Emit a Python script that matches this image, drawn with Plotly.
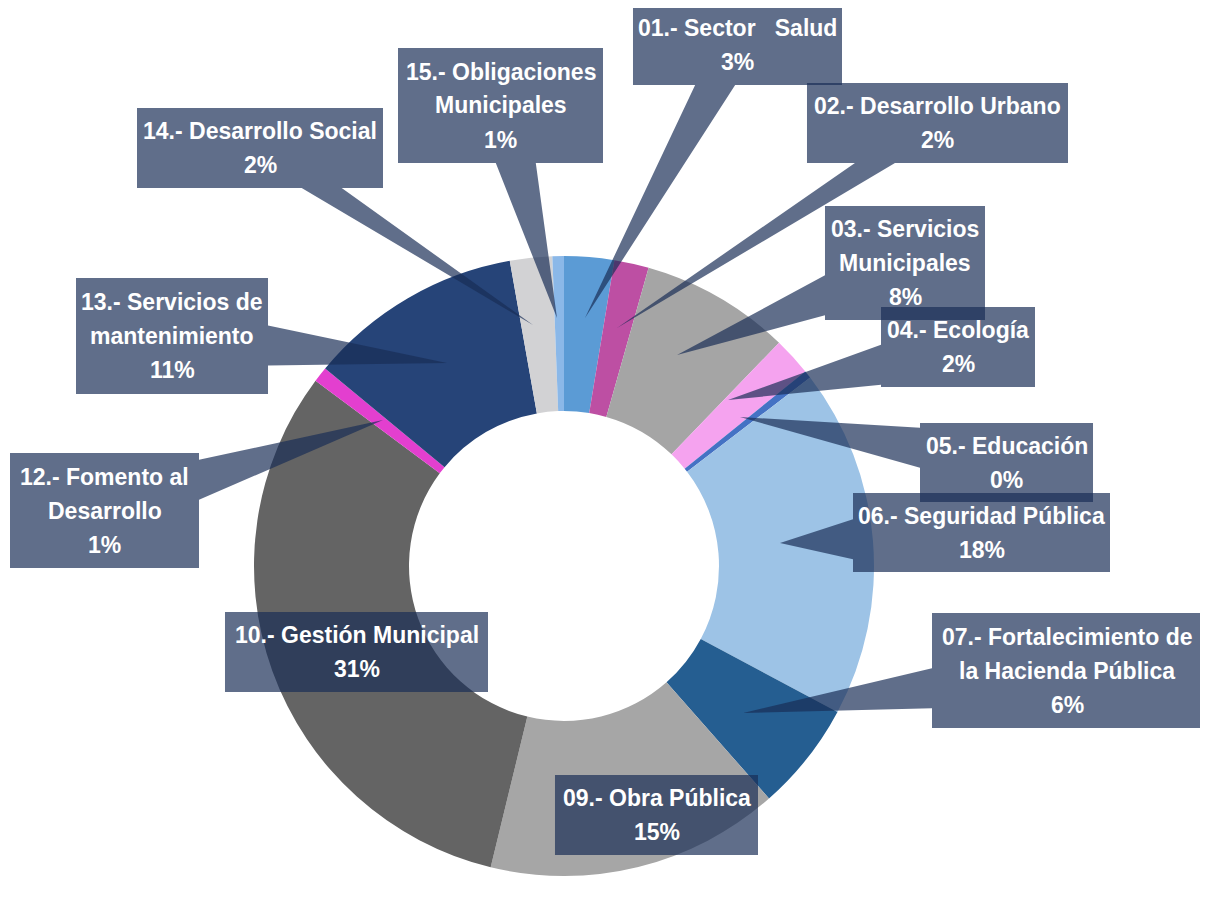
import plotly.graph_objects as go

# ---------------- data ----------------
categories = [
    "01.- Sector\u00a0\u00a0\u00a0Salud",
    "02.- Desarrollo Urbano",
    "03.- Servicios<br>Municipales",
    "04.- Ecología",
    "05.- Educación",
    "06.- Seguridad Pública",
    "07.- Fortalecimiento de<br>la Hacienda Pública",
    "09.- Obra Pública",
    "10.- Gestión Municipal",
    "12.- Fomento al<br>Desarrollo",
    "13.- Servicios de<br>mantenimiento",
    "14.- Desarrollo Social",
    "15.- Obligaciones<br>Municipales",
]
values = [2.6, 1.8, 7.8, 2.0, 0.4, 18.2, 5.7, 15.3, 31.4, 0.8, 11.2, 2.2, 0.6]
colors = [
    "#5b9bd5", "#bd4fa3", "#a5a5a5", "#f5a3ef", "#4472c4", "#9dc3e6",
    "#255e91", "#a6a6a6", "#646464", "#e33fcf", "#264478", "#d2d2d4", "#8bb8e8",
]

# ---------------- layout constants (screen pixels) ----------------
OFF = 8                      # page body margin
FW, FH = 1200, 895           # figure size
CX, CY, R = 564, 566, 310

boxes = [
    (633, 5, 842, 85), (807, 83, 1068, 163), (825, 206, 985, 320),
    (881, 307, 1035, 387), (920, 423, 1093, 502), (853, 493, 1110, 572),
    (932, 613, 1202, 728), (555, 775, 758, 855), (225, 612, 488, 692),
    (10, 453, 199, 568), (76, 278, 268, 394), (137, 108, 383, 188),
    (398, 48, 603, 163),
]
tips = [
    (585, 318), (617, 328), (677, 355), (728, 400), (740, 417), (780, 543),
    (743, 713), None, None, (383, 420), (447, 363), (533, 325), (557, 318),
]
BOX_COLOR = "rgba(25,45,86,0.69)"
LINE_PITCH = 34
HALF_WEDGE = 20


def px(x, y):
    return (x - OFF) / FW, 1 - (y - OFF) / FH


def callout_polygon(box, tip):
    x0, y0, x1, y1 = box
    if tip is None:
        return [(x0, y0), (x1, y0), (x1, y1), (x0, y1)]
    cx, cy = (x0 + x1) / 2, (y0 + y1) / 2
    dx, dy = tip[0] - cx, tip[1] - cy
    hw, hh = (x1 - x0) / 2, (y1 - y0) / 2
    tx = hw / abs(dx) if dx else 1e9
    ty = hh / abs(dy) if dy else 1e9
    w = HALF_WEDGE
    if tx < ty:
        ey = min(max(cy + dy * tx, y0 + w), y1 - w)
        if dx > 0:   # right edge (top->bottom)
            return [(x0, y0), (x1, y0), (x1, ey - w), tip, (x1, ey + w), (x1, y1), (x0, y1)]
        return [(x0, y0), (x1, y0), (x1, y1), (x0, y1), (x0, ey + w), tip, (x0, ey - w)]
    ex = min(max(cx + dx * ty, x0 + w), x1 - w)
    if dy > 0:       # bottom edge (right->left)
        return [(x0, y0), (x1, y0), (x1, y1), (ex + w, y1), tip, (ex - w, y1), (x0, y1)]
    return [(x0, y0), (ex - w, y0), tip, (ex + w, y0), (x1, y0), (x1, y1), (x0, y1)]


def path_of(poly):
    conv = [px(x, y) for x, y in poly]
    return "M " + " L ".join(f"{a:.5f},{b:.5f}" for a, b in conv) + " Z"


dx0, dy1 = px(CX - R, CY - R)
dx1, dy0 = px(CX + R, CY + R)
fig = go.Figure(
    go.Pie(
        labels=categories,
        values=values,
        hole=0.5,
        sort=False,
        direction="clockwise",
        rotation=0,
        marker=dict(colors=colors, line=dict(width=0)),
        textinfo="none",
        domain=dict(x=[dx0, dx1], y=[dy0, dy1]),
        showlegend=False,
    )
)

total = sum(values)
shapes = []
annotations = []
font = dict(family="Liberation Sans Narrow, Arial Narrow, Liberation Sans, sans-serif",
            size=23, color="white", weight="bold")

for cat, v, box, tip in zip(categories, values, boxes, tips):
    x0, y0, x1, y1 = box
    shapes.append(dict(type="path", xref="paper", yref="paper",
                       path=path_of(callout_polygon(box, tip)), fillcolor=BOX_COLOR,
                       line=dict(width=0), layer="above"))
    pct = f"{round(v / total * 100)}%"
    lines = cat.split("<br>") + [pct]
    n = len(lines)
    bx, by = (x0 + x1) / 2, (y0 + y1) / 2
    for i, t in enumerate(lines):
        ly = by + (i - (n - 1) / 2) * LINE_PITCH
        ax_, ay_ = px(bx, ly)
        annotations.append(dict(text=t, x=ax_, y=ay_, xref="paper", yref="paper",
                                xanchor="center", yanchor="middle",
                                showarrow=False, font=font))

fig.update_layout(
    width=FW, height=FH,
    margin=dict(l=0, r=0, t=0, b=0),
    paper_bgcolor="white",
    plot_bgcolor="white",
    shapes=shapes,
    annotations=annotations,
)

fig.write_html("out.html")
